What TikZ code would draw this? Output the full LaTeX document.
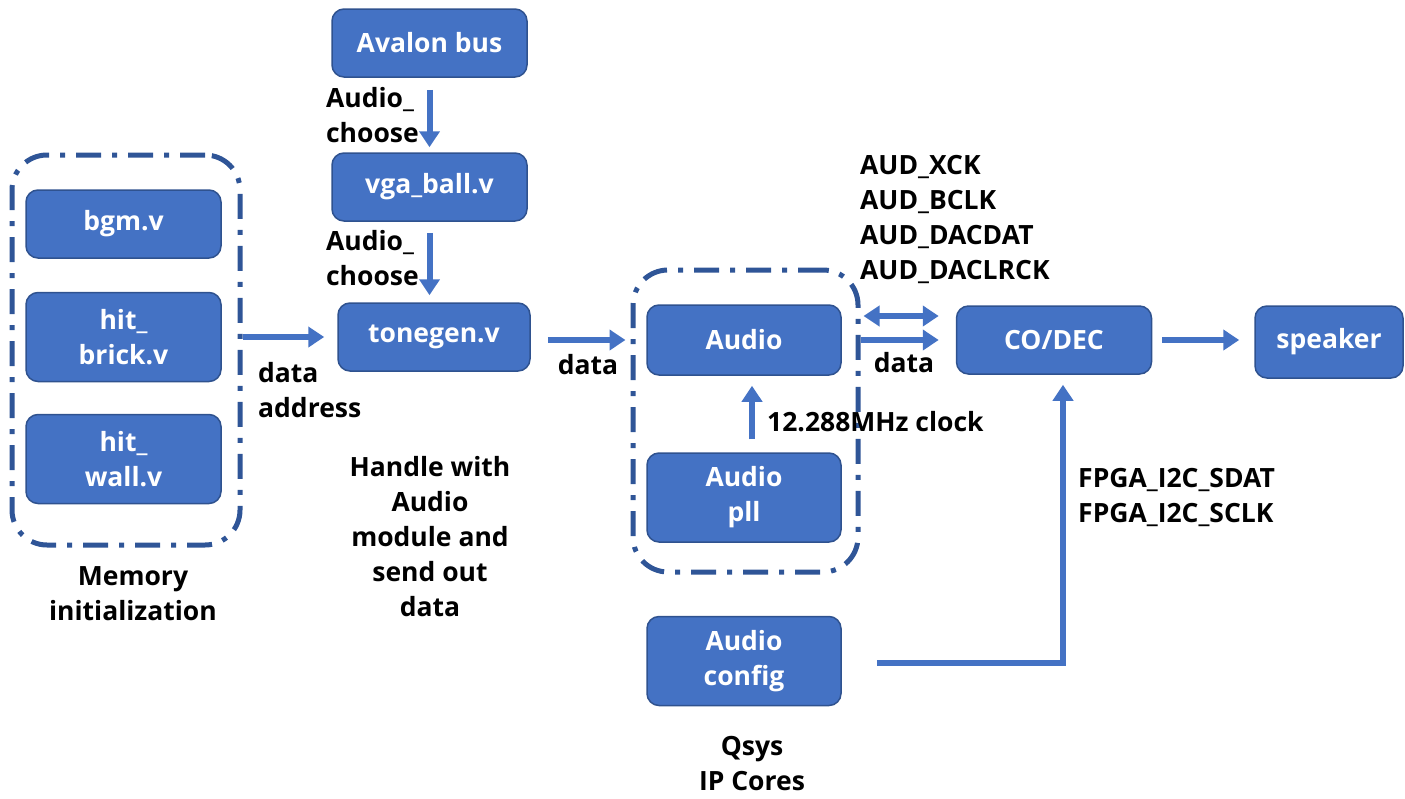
\documentclass[tikz,border=0pt]{standalone}
\usepackage{fontspec}
\setmainfont{Open Sans}
\usetikzlibrary{arrows.meta, positioning}
\tikzset{>={Triangle[width=20pt,length=16pt]}}
\definecolor{boxblue}{HTML}{4472C4}
\definecolor{edgeblue}{HTML}{2F528F}
\definecolor{grpblue}{HTML}{2F5597}

\begin{document}
\begin{tikzpicture}[
    x = 1pt, y = -1pt,
    font = \fontsize{26.5}{35}\selectfont\bfseries,
    blk/.style = {draw=edgeblue, line width=1.5pt, fill=boxblue,
        rounded corners=12pt, text=white, minimum width=195pt,
        minimum height=68pt, align=center, inner sep=0pt},
    grp/.style = {draw=grpblue, line width=5pt, rounded corners=35pt,
        dash pattern=on 25pt off 11pt on 5pt off 11pt, inner sep=0pt},
    arr/.style = {->, draw=boxblue, line width=6pt},
    lbl/.style = {align=center, inner sep=0pt}
  ]
  \useasboundingbox (0,0) rectangle (1405,798);

  % groups
  \node[grp, minimum width=228pt, minimum height=390pt] (mem) at (126,350) {};
  \node[grp, minimum width=225pt, minimum height=302pt] (ipgrp) at (745.5,421) {};

  % blocks
  \node[blk] (avalon) at (429.5,43) {Avalon bus};
  \node[blk] (vga) at (429.5,187) {vga\_ball.v};
  \node[blk, minimum width=192pt] (tone) at (434,337) {tonegen.v};
  \node[blk] (bgm) at (123.5,224) {bgm.v};
  \node[blk, minimum height=89pt] (brick) at (123.5,337) {hit\_\\brick.v};
  \node[blk, minimum height=89pt] (wall) at (123.5,459) {hit\_\\wall.v};
  \node[blk, minimum width=194pt, minimum height=70pt] (audio) at (744,340) {Audio};
  \node[blk, minimum width=194pt, minimum height=89pt] (pll) at (744,497.5) {Audio\\pll};
  \node[blk, minimum width=194pt, minimum height=89pt] (cfg) at (744,661) {Audio\\config};
  \node[blk] (codec) at (1054,340) {CO/DEC};
  \node[blk, minimum width=148pt, minimum height=72pt] (speaker) at (1329,342) {speaker};

  % connectors
  \draw[arr, shorten <=12pt, shorten >=5pt] (avalon.south) -- (vga.north);
  \draw[arr, shorten <=11pt, shorten >=7pt] (vga.south) -- (vga.south |- tone.north);
  \draw[arr, shorten >=13pt] (mem.east |- tone) -- (tone.west);
  \draw[arr, shorten <=17pt, shorten >=5pt] ([yshift=-3pt]tone.east) -- ([yshift=-3pt]tone.east -| ipgrp.west);
  \draw[arr, shorten <=13pt, shorten >=10pt] ([xshift=8pt]pll.north) -- ([xshift=8pt]audio.south);
  \draw[arr, <->, shorten <=3pt, shorten >=17pt] ([yshift=24pt]audio.east -| ipgrp.east) -- ([yshift=24pt]codec.west);
  \draw[arr, shorten >=17pt] (audio.east -| ipgrp.east) -- (codec.west);
  \draw[arr, shorten <=10pt, shorten >=15pt] (codec.east) -- (codec.east -| speaker.west);
  \draw[arr, shorten <=35pt, shorten >=10pt] ([yshift=-2pt]cfg.east) -| ([xshift=9pt]codec.south);

  % labels
  \node[lbl, align=left, anchor=east] (ach1) at (419,115) {Audio\_\\choose};
  \node[lbl, align=left, anchor=east] (ach2) at (419,258) {Audio\_\\choose};
  \node[lbl, align=left, anchor=west] (dataddr) at (258,390) {data\\address};
  \node[lbl] (handle) at (430,537) {Handle with\\Audio\\module and\\send out\\data};
  \node[lbl] (meminit) at (133,594) {Memory\\initialization};
  \node[lbl] (data1) at (588,365) {data};
  \node[lbl] (data2) at (904,363) {data};
  \node[lbl, anchor=west] (clk) at (767,422) {12.288MHz clock};
  \node[lbl, align=left, anchor=west] (audsig) at (860,219) {AUD\_XCK\\AUD\_BCLK\\AUD\_DACDAT\\AUD\_DACLRCK};
  \node[lbl, align=left, anchor=west] (i2c) at (1078,497) {FPGA\_I2C\_SDAT\\FPGA\_I2C\_SCLK};
  \node[lbl] (qsys) at (752,764) {Qsys\\IP Cores};
\end{tikzpicture}
\end{document}
